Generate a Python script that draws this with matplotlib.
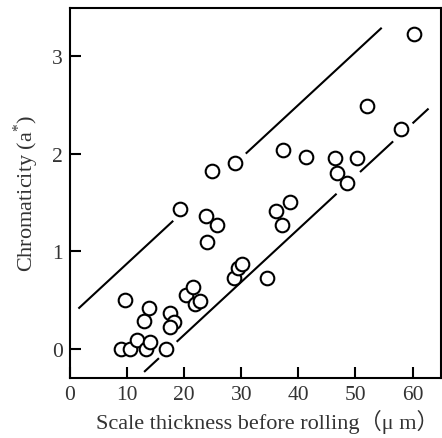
import numpy as np
import matplotlib
matplotlib.use("Agg")
import matplotlib.pyplot as plt

plt.rcParams['font.family'] = ['Liberation Serif', 'Noto Sans CJK JP', 'DejaVu Serif']
plt.rcParams['mathtext.fontset'] = 'custom'
plt.rcParams['mathtext.rm'] = 'Liberation Serif'

# measured points: scale thickness (um) vs chromaticity a*
thickness = [8.9, 10.5, 11.7, 13.3, 14.0, 16.8, 9.7, 13.0, 13.8, 17.6, 18.2, 17.5,
             19.2, 20.4, 21.5, 21.9, 22.8, 23.8, 24.1, 25.8, 24.9, 29.0, 28.8, 29.5,
             30.2, 34.6, 36.1, 37.1, 38.5, 37.4, 41.3, 46.5, 46.8, 48.6, 50.2, 52.1,
             58.0, 60.2]
chroma = [0.0, 0.0, 0.085, 0.0, 0.07, 0.0, 0.495, 0.28, 0.42, 0.365, 0.27, 0.22,
          1.43, 0.55, 0.63, 0.46, 0.49, 1.36, 1.10, 1.27, 1.82, 1.91, 0.73, 0.83,
          0.87, 0.73, 1.41, 1.27, 1.51, 2.04, 1.97, 1.96, 1.80, 1.70, 1.96, 2.49,
          2.26, 3.23]

# band lines (slope, intercept) and the x-ranges where they are drawn
slope = 0.0543
upper_icpt = 0.33
lower_icpt = -0.945
upper_segs = [(1.5, 18.1), (30.8, 54.6)]
lower_segs = [(13.0, 15.6), (18.7, 46.7), (50.8, 56.6), (60.0, 62.8)]

fig = plt.figure(figsize=(4.42, 4.39), dpi=100)
ax = fig.add_axes([0.158, 0.137, 0.840, 0.843])

for icpt, segs in [(upper_icpt, upper_segs), (lower_icpt, lower_segs)]:
    for x0, x1 in segs:
        xs = np.array([x0, x1])
        ax.plot(xs, slope * xs + icpt, color='black', lw=1.5, solid_capstyle='butt')

ax.plot(thickness, chroma, 'o', ms=9.8, mfc='white', mec='black', mew=1.5, zorder=3)

ax.set_xlim(0, 65)
ax.set_ylim(-0.3, 3.5)
ax.set_xticks([0, 10, 20, 30, 40, 50, 60])
ax.set_yticks([0, 1, 2, 3])
ax.tick_params(direction='in', length=8, width=1.5, labelsize=15.5, pad=5, labelcolor='#333333')
for sp in ax.spines.values():
    sp.set_linewidth(1.5)

ax.set_xlabel('Scale thickness before rolling（μ m）', fontsize=16, color='#333333',
              labelpad=4, x=0.533)
ax.set_ylabel('Chromaticity (a$^{*}$)', fontsize=16, color='#333333', labelpad=8)

fig.savefig('out.png', dpi=100)
